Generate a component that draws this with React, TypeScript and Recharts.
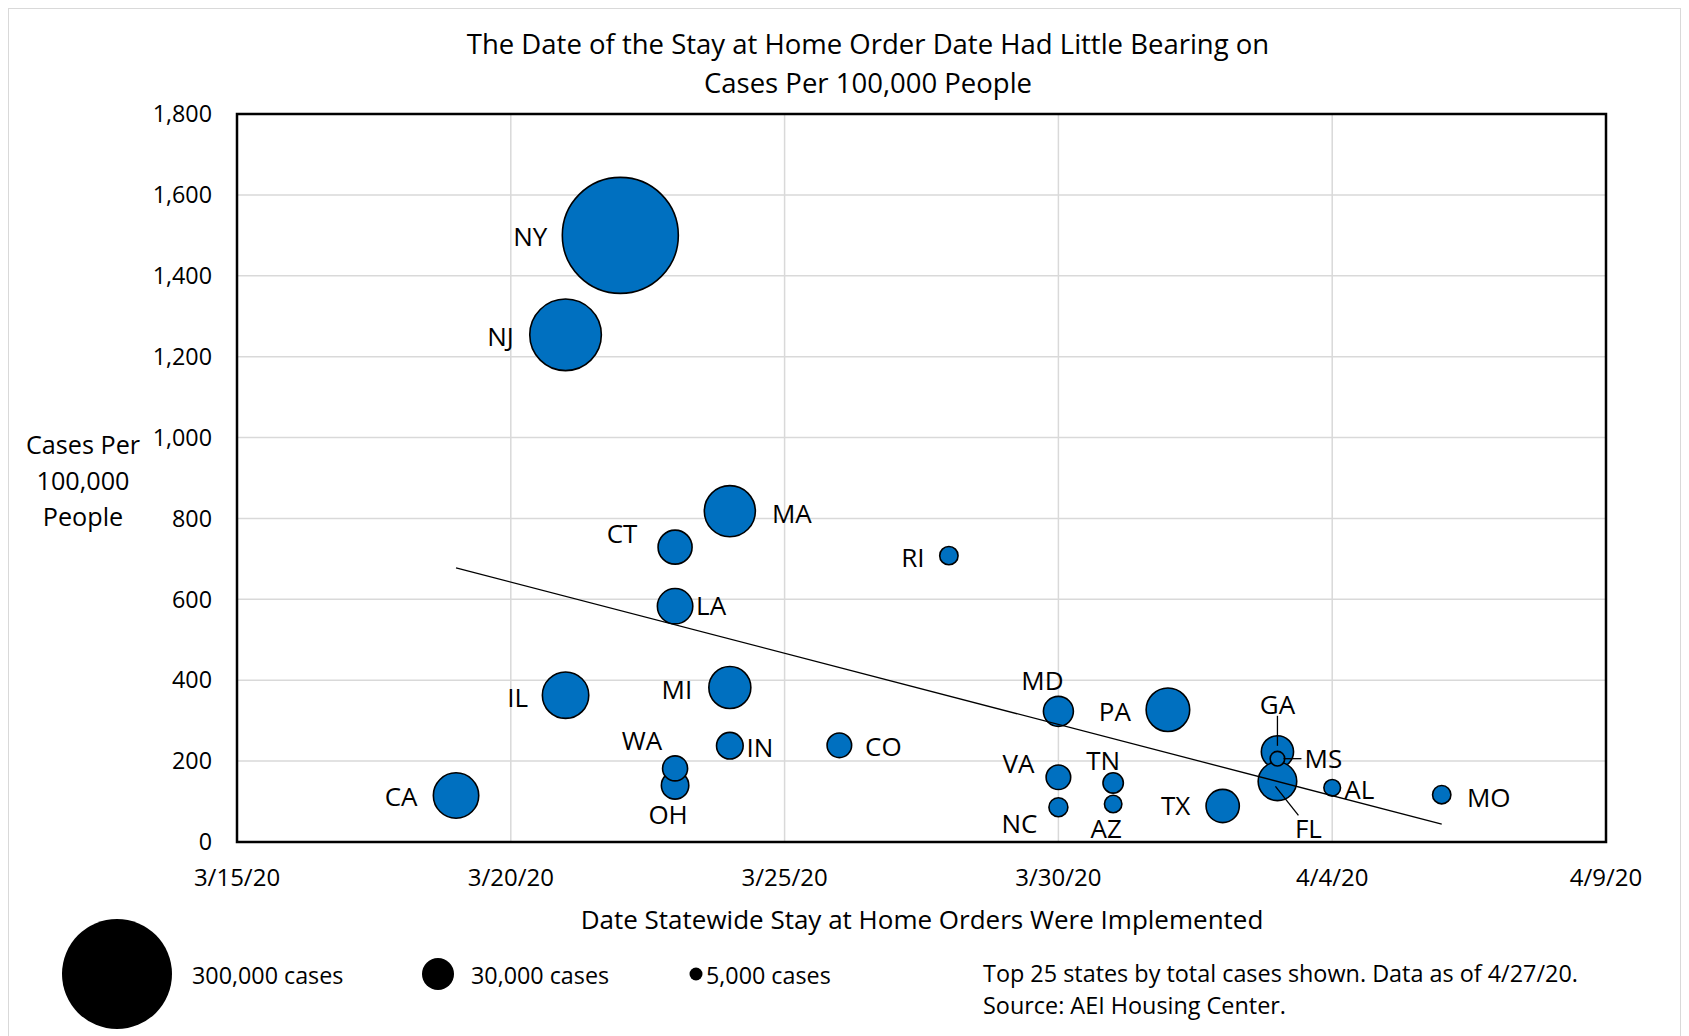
import { CartesianGrid, ReferenceArea, Scatter, ScatterChart, XAxis, YAxis, ZAxis } from 'recharts';

// Top 25 states by total cases, as of 4/27/20
const STATES = [
  'NY', 'NJ', 'MA', 'IL', 'CA', 'PA', 'MI', 'LA', 'CT', 'TX', 'GA', 'FL', 'MD',
  'OH', 'IN', 'WA', 'CO', 'VA', 'TN', 'NC', 'RI', 'MO', 'AZ', 'AL', 'MS',
];
const ORDER_DATES = [
  '3/22/20', '3/21/20', '3/24/20', '3/21/20', '3/19/20', '4/1/20', '3/24/20', '3/23/20',
  '3/23/20', '4/2/20', '4/3/20', '4/3/20', '3/30/20', '3/23/20', '3/24/20', '3/23/20',
  '3/26/20', '3/30/20', '3/31/20', '3/30/20', '3/28/20', '4/6/20', '3/31/20', '4/4/20',
  '4/3/20',
];
const CASES_PER_100K = [
  1500, 1254, 818, 363, 115, 327, 382, 583, 729, 89, 223, 150, 323,
  140, 238, 182, 239, 160, 146, 86, 708, 117, 94, 134, 206,
];
const TOTAL_CASES = [
  292000, 111200, 56500, 46700, 44700, 41200, 38300, 27200, 25100, 24000, 22500, 32300,
  19500, 16300, 15400, 13600, 13100, 13100, 9000, 7800, 7300, 7300, 6600, 6000, 4600,
];

const X_TICKS = ['3/15/20', '3/20/20', '3/25/20', '3/30/20', '4/4/20', '4/9/20'];
const Y_TICKS = [0, 200, 400, 600, 800, 1000, 1200, 1400, 1600, 1800];
const LEGEND_LABELS = ['300,000 cases', '30,000 cases', '5,000 cases'];

// label offsets from bubble centre, px
const LABEL_OFFSETS: Record<string, [number, number]> = {
  NY: [-90, 1], NJ: [-65, 1], MA: [62, 2], CT: [-53, -14], RI: [-36, 1],
  LA: [36, -1], IL: [-48, 2], MI: [-53, 1], WA: [-33, -28], OH: [-7, 29],
  IN: [30, 1], CO: [44, 1], CA: [-55, 1], MD: [-16, -31], PA: [-53, 1],
  VA: [-40, -14], NC: [-39, 16], TN: [-10, -23], AZ: [-7, 24], TX: [-47, -1],
  GA: [0, -48], MS: [46, -1], FL: [31, 47], AL: [27, 1], MO: [47, 2],
};
const LEADERS: Record<string, [number, number, number, number]> = {
  GA: [0, -36, 0, -6],
  MS: [6, 0, 24, 0],
  FL: [-2, 5, 21, 34],
};

const START = Date.UTC(2020, 2, 15);
const dayOf = (s: string) => {
  const [m, d, y] = s.split('/').map(Number);
  return (Date.UTC(2000 + y, m - 1, d) - START) / 86400000;
};
const X_TICK_VALUES = X_TICKS.map(dayOf);

const bubbles = STATES.map((state, i) => ({
  state,
  x: dayOf(ORDER_DATES[i]),
  y: CASES_PER_100K[i],
  z: TOTAL_CASES[i],
}));

// linear trendline, fitted the same way Excel does
const n = bubbles.length;
const mx = bubbles.reduce((s, p) => s + p.x, 0) / n;
const my = bubbles.reduce((s, p) => s + p.y, 0) / n;
const slope =
  bubbles.reduce((s, p) => s + (p.x - mx) * (p.y - my), 0) /
  bubbles.reduce((s, p) => s + (p.x - mx) ** 2, 0);
const xs = bubbles.map((p) => p.x);
const trend = [Math.min(...xs), Math.max(...xs)].map((x) => ({ x, y: my + slope * (x - mx) }));

const FONT = '"Open Sans", sans-serif';
const MAX_R = 58;

const Bubble = (props: any) => {
  const r = props.width ? props.width / 2 : Math.sqrt((props.size ?? 0) / Math.PI);
  return <circle cx={props.cx} cy={props.cy} r={r} fill="#0070C0" stroke="#000" strokeWidth={1.6} />;
};

const StateLabel = (props: any) => {
  const { cx, cy, payload } = props;
  const [dx, dy] = LABEL_OFFSETS[payload.state] ?? [0, 0];
  const lead = LEADERS[payload.state];
  return (
    <g>
      {lead && (
        <line
          x1={cx + lead[0]}
          y1={cy + lead[1]}
          x2={cx + lead[2]}
          y2={cy + lead[3]}
          stroke="#000"
          strokeWidth={1.3}
        />
      )}
      <text
        x={cx + dx}
        y={cy + dy}
        textAnchor="middle"
        dominantBaseline="central"
        fontSize={26}
        fontFamily={FONT}
        fill="#000"
      >
        {payload.state}
      </text>
    </g>
  );
};

const Nothing = () => <g />;

const abs = (left: number, top: number, extra: React.CSSProperties = {}): React.CSSProperties => ({
  position: 'absolute',
  left,
  top,
  whiteSpace: 'nowrap',
  ...extra,
});

export default function App() {
  const legendR = [55, 16, 6.5];
  const legendX = [108, 429, 687];
  const legendText = [183, 462, 697];
  return (
    <div
      style={{
        position: 'relative',
        width: 1673,
        height: 1030,
        border: '1px solid #d9d9d9',
        boxSizing: 'border-box',
        background: '#fff',
        fontFamily: FONT,
        color: '#000',
      }}
    >
      <div style={abs(859, 34, { transform: 'translate(-50%, -50%)', fontSize: 27.5 })}>
        The Date of the Stay at Home Order Date Had Little Bearing on
      </div>
      <div style={abs(859, 73, { transform: 'translate(-50%, -50%)', fontSize: 27.5 })}>
        Cases Per 100,000 People
      </div>
      <div
        style={abs(74, 471, {
          transform: 'translate(-50%, -50%)',
          fontSize: 25.2,
          textAlign: 'center',
          lineHeight: '36px',
        })}
      >
        Cases Per
        <br />
        100,000
        <br />
        People
      </div>

      <div style={{ position: 'absolute', left: 0, top: 0 }}>
        <ScatterChart width={1671} height={1028} margin={{ top: 105, right: 74, left: 148, bottom: 145 }}>
          <CartesianGrid stroke="#d9d9d9" strokeWidth={1.5} />
          <XAxis
            type="number"
            dataKey="x"
            domain={[0, 25]}
            ticks={X_TICK_VALUES}
            tickFormatter={(v: number) => X_TICKS[X_TICK_VALUES.indexOf(v)]}
            axisLine={false}
            tickLine={false}
            tickSize={0}
            tickMargin={27}
            height={50}
            tick={{ fill: '#000', fontSize: 24, fontFamily: FONT }}
          />
          <YAxis
            type="number"
            dataKey="y"
            domain={[0, 1800]}
            ticks={Y_TICKS}
            tickFormatter={(v: number) => v.toLocaleString('en-US')}
            axisLine={false}
            tickLine={false}
            tickSize={0}
            tickMargin={25}
            width={80}
            tick={{ fill: '#000', fontSize: 23.3, fontFamily: FONT }}
          />
          <ZAxis
            type="number"
            dataKey="z"
            domain={[0, Math.max(...TOTAL_CASES)]}
            range={[0, Math.PI * MAX_R * MAX_R]}
          />
          <ReferenceArea x1={0} x2={25} y1={0} y2={1800} fill="none" stroke="#000" strokeWidth={2.5} />
          <Scatter data={bubbles} shape={Bubble} isAnimationActive={false} />
          <Scatter
            data={trend}
            line={{ stroke: '#000', strokeWidth: 1.3 }}
            shape={Nothing}
            isAnimationActive={false}
          />
          <Scatter data={bubbles} shape={StateLabel} isAnimationActive={false} />
        </ScatterChart>
      </div>

      <div style={abs(913, 910, { transform: 'translate(-50%, -50%)', fontSize: 26 })}>
        Date Statewide Stay at Home Orders Were Implemented
      </div>

      <svg style={{ position: 'absolute', left: 0, top: 0 }} width={1671} height={1028}>
        {legendR.map((r, i) => (
          <circle key={i} cx={legendX[i]} cy={965} r={r} fill="#000" />
        ))}
      </svg>
      {LEGEND_LABELS.map((t, i) => (
        <div key={t} style={abs(legendText[i], 966, { transform: 'translateY(-50%)', fontSize: 23.3 })}>
          {t}
        </div>
      ))}
      <div style={abs(974, 964, { transform: 'translateY(-50%)', fontSize: 23.4 })}>
        Top 25 states by total cases shown. Data as of 4/27/20.
      </div>
      <div style={abs(974, 996, { transform: 'translateY(-50%)', fontSize: 23.4 })}>
        Source: AEI Housing Center.
      </div>
    </div>
  );
}
